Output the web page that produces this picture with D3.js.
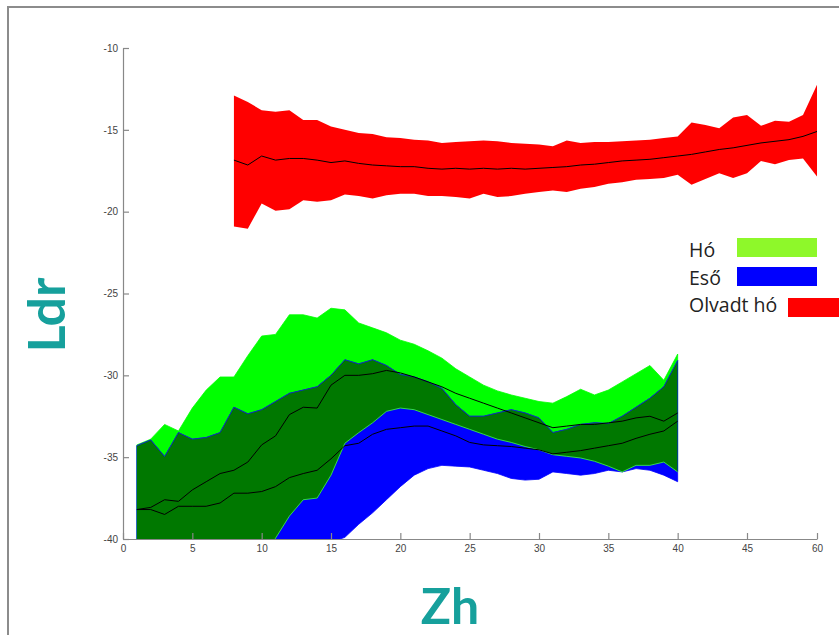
<!DOCTYPE html>
<html>
<head>
<meta charset="utf-8">
<script src="https://cdn.jsdelivr.net/npm/d3@7"></script>
<style>
  html, body { margin: 0; padding: 0; background: #fff; overflow: hidden; }
  svg { display: block; }
</style>
</head>
<body>
<svg id="chart" width="839" height="635"></svg>
<script>
// Zh bins shared by the snow (Hó) and rain (Eső) bands
const zhBins = [1,2,3,4,5,6,7,8,9,10,11,12,13,14,15,16,17,18,19,20,
                21,22,23,24,25,26,27,28,29,30,31,32,33,34,35,36,37,38,39,40];

// Hó: upper edge, mean, lower edge of Ldr
const snowHi = [-34.25,-33.9,-33.0,-33.4,-32.0,-30.9,-30.1,-30.1,-28.8,-27.6,
                -27.5,-26.3,-26.3,-26.5,-25.9,-26.0,-26.8,-27.1,-27.4,-27.85,
                -28.1,-28.5,-28.95,-29.6,-30.1,-30.6,-30.95,-31.2,-31.4,-31.6,
                -31.7,-31.3,-30.85,-31.2,-30.9,-30.4,-29.9,-29.4,-30.3,-28.7];
const snowMean = [-38.2,-38.07,-37.6,-37.7,-37.0,-36.5,-36.0,-35.8,-35.3,-34.25,
                  -33.7,-32.4,-31.95,-32.0,-30.6,-30.0,-30.0,-29.9,-29.7,-29.85,
                  -30.1,-30.4,-30.7,-31.1,-31.4,-31.7,-32.0,-32.3,-32.6,-32.9,
                  -33.2,-33.1,-33.0,-33.0,-32.9,-32.8,-32.6,-32.5,-32.8,-32.3];
const snowLo = [-42.2,-42.3,-42.2,-42.0,-42.0,-42.1,-41.9,-41.6,-41.8,-41.4,
                -39.95,-38.6,-37.6,-37.5,-36.1,-34.15,-33.5,-32.9,-32.2,-32.0,
                -32.1,-32.4,-32.7,-33.0,-33.3,-33.6,-33.9,-34.1,-34.35,-34.55,
                -34.85,-34.95,-35.05,-35.25,-35.55,-35.9,-35.5,-35.5,-35.3,-35.9];

// Eső: upper edge, mean, lower edge of Ldr
const rainHi = [-34.3,-33.95,-34.96,-33.5,-33.9,-33.8,-33.5,-31.95,-32.35,-32.1,
                -31.6,-31.1,-30.9,-30.7,-30.0,-29.05,-29.3,-29.05,-29.4,-29.95,
                -30.1,-30.4,-30.8,-31.8,-32.5,-32.5,-32.3,-32.1,-32.3,-32.6,
                -33.5,-33.3,-33.0,-32.9,-32.95,-32.5,-31.95,-31.4,-30.7,-29.1];
const rainMean = [-38.2,-38.2,-38.5,-38.0,-38.0,-38.0,-37.8,-37.2,-37.2,-37.1,
                  -36.8,-36.25,-36.0,-35.8,-35.1,-34.3,-34.15,-33.6,-33.3,-33.2,
                  -33.1,-33.1,-33.4,-33.7,-34.1,-34.25,-34.3,-34.35,-34.45,-34.55,
                  -34.8,-34.7,-34.6,-34.45,-34.3,-34.15,-33.85,-33.6,-33.4,-32.8];
const rainLo = [-42.2,-42.5,-42.1,-42.5,-42.1,-42.2,-42.1,-42.4,-42.1,-42.1,
                -42.0,-41.4,-41.1,-40.8,-40.2,-39.9,-39.1,-38.4,-37.6,-36.8,
                -36.1,-35.7,-35.5,-35.55,-35.6,-35.8,-36.0,-36.3,-36.4,-36.35,
                -35.9,-36.0,-36.1,-36.0,-35.8,-35.9,-35.7,-35.8,-36.1,-36.5];

// Olvadt hó (melting snow) band
const meltBins = [8,9,10,11,12,13,14,15,16,17,18,19,20,21,22,23,24,25,26,27,28,29,
                  30,31,32,33,34,35,36,37,38,39,40,41,42,43,44,45,48,51,54,57,60];
const meltHi = [-12.9,-13.3,-13.8,-13.9,-13.8,-14.4,-14.4,-14.8,-15.0,-15.2,-15.25,-15.45,
                -15.5,-15.6,-15.65,-15.8,-15.75,-15.7,-15.65,-15.7,-15.8,-15.85,
                -15.9,-16.0,-15.65,-15.8,-15.75,-15.75,-15.7,-15.65,-15.6,-15.5,
                -15.4,-14.55,-14.7,-14.9,-14.25,-14.1,-14.75,-14.45,-14.5,-14.1,-12.25];
const meltMean = [-16.85,-17.15,-16.6,-16.85,-16.75,-16.75,-16.85,-17.0,-16.9,-17.05,-17.15,-17.2,
                  -17.25,-17.25,-17.35,-17.4,-17.35,-17.4,-17.35,-17.4,-17.35,-17.4,
                  -17.35,-17.3,-17.25,-17.15,-17.1,-17.0,-16.9,-16.85,-16.8,-16.7,
                  -16.6,-16.5,-16.35,-16.2,-16.1,-15.95,-15.8,-15.7,-15.6,-15.4,-15.1];
const meltLo = [-20.9,-21.05,-19.5,-19.95,-19.85,-19.3,-19.4,-19.3,-18.95,-19.05,-19.2,-19.0,
                -18.9,-18.9,-19.05,-19.05,-19.1,-19.2,-18.9,-19.1,-19.05,-18.9,
                -18.8,-18.7,-18.8,-18.6,-18.5,-18.3,-18.2,-18.05,-18.0,-17.95,
                -17.75,-18.35,-18.0,-17.65,-17.95,-17.65,-16.9,-17.1,-16.85,-16.75,-17.85];

// Axis ticks and legend
const xTicks = [0,5,10,15,20,25,30,35,40,45,60];
const yTicks = [-10,-15,-20,-25,-30,-35,-40];
const legendLabels = ["Hó", "Eső", "Olvadt hó"];
const legendColors = ["#8ef82a", "#0000ff", "#ff0000"];

const svg = d3.select("#chart");

// outer frame
svg.append("rect")
  .attr("x", 8).attr("y", 7).attr("width", 900).attr("height", 700)
  .attr("fill", "none").attr("stroke", "#8c8c8c").attr("stroke-width", 2);

const plot = { left: 123, right: 817, top: 48, bottom: 539 };

const x = d3.scaleLinear().domain([0, 45, 60]).range([plot.left, 747, plot.right]);
const y = d3.scaleLinear().domain([-40, -10]).range([plot.bottom, plot.top]);

const defs = svg.append("defs");
defs.append("clipPath").attr("id", "plotClip")
  .append("rect")
  .attr("x", plot.left).attr("y", plot.top)
  .attr("width", plot.right - plot.left).attr("height", plot.bottom - plot.top);

const rows = (xs, hi, mid, lo) => xs.map((v, i) => ({ x: v, hi: hi[i], mid: mid[i], lo: lo[i] }));
const snow = rows(zhBins, snowHi, snowMean, snowLo);
const rain = rows(zhBins, rainHi, rainMean, rainLo);
const melt = rows(meltBins, meltHi, meltMean, meltLo);

const band = d3.area().x(d => x(d.x)).y0(d => y(d.lo)).y1(d => y(d.hi));
const midLine = d3.line().x(d => x(d.x)).y(d => y(d.mid));
const hiLine = d3.line().x(d => x(d.x)).y(d => y(d.hi));
const loLine = d3.line().x(d => x(d.x)).y(d => y(d.lo));

defs.append("clipPath").attr("id", "snowClip")
  .append("path").attr("d", band(snow));

const g = svg.append("g").attr("clip-path", "url(#plotClip)");

// melting snow band
g.append("path").attr("d", band(melt)).attr("fill", "#ff0000");

// snow band, rain band, and their overlap
g.append("path").attr("d", band(snow)).attr("fill", "#00ff00")
  .attr("stroke", "#00ff00").attr("stroke-width", 0.8);
g.append("path").attr("d", band(rain)).attr("fill", "#0000ff")
  .attr("stroke", "#0000ff").attr("stroke-width", 0.8);
g.append("path").attr("d", band(rain)).attr("fill", "#007800")
  .attr("clip-path", "url(#snowClip)");

// patch edges bordering the overlap
g.append("path").attr("d", hiLine(rain)).attr("fill", "none")
  .attr("stroke", "#1030c0").attr("stroke-width", 0.8);
g.append("path").attr("d", loLine(snow)).attr("fill", "none")
  .attr("stroke", "#40ff40").attr("stroke-width", 0.8);

// mean lines
[melt, snow, rain].forEach(s => {
  g.append("path").attr("d", midLine(s)).attr("fill", "none")
    .attr("stroke", "#000").attr("stroke-width", 1);
});

// axes
const axisFont = "'Liberation Sans', Arial, sans-serif";
const xAxis = d3.axisBottom(x).tickValues(xTicks).tickFormat(d => String(d))
  .tickSizeInner(-6).tickSizeOuter(0).tickPadding(4);
const yAxis = d3.axisLeft(y).tickValues(yTicks).tickFormat(d => String(d))
  .tickSizeInner(-6).tickSizeOuter(0).tickPadding(5);

const gx = svg.append("g").attr("transform", `translate(0,${plot.bottom})`).call(xAxis);
const gy = svg.append("g").attr("transform", `translate(${plot.left},0)`).call(yAxis);
[gx, gy].forEach(a => {
  a.select(".domain").attr("stroke", "#888").attr("stroke-width", 1.2);
  a.selectAll(".tick line").attr("stroke", "#888").attr("stroke-width", 1.2);
  a.selectAll(".tick text").attr("font-family", axisFont).attr("font-size", 10)
    .attr("fill", "#444");
});
gx.selectAll(".tick text").attr("dy", "0.85em");

// axis titles
const titleFont = "Lato, 'Open Sans', sans-serif";
svg.append("text")
  .attr("transform", "translate(65,315) rotate(-90)")
  .attr("text-anchor", "middle")
  .attr("font-family", titleFont).attr("font-weight", "bold").attr("font-size", 52)
  .attr("fill", "#16a09c").text("Ldr");
svg.append("text")
  .attr("x", 450).attr("y", 624)
  .attr("text-anchor", "middle")
  .attr("font-family", titleFont).attr("font-weight", "bold").attr("font-size", 50)
  .attr("fill", "#16a09c").text("Zh");

// legend
const legendFont = "'Open Sans', 'Noto Sans', sans-serif";
const legendRows = [
  { label: legendLabels[0], color: legendColors[0], ty: 257, sx: 737, sy: 238 },
  { label: legendLabels[1], color: legendColors[1], ty: 285, sx: 737, sy: 267 },
  { label: legendLabels[2], color: legendColors[2], ty: 311.5, sx: 788, sy: 298 }
];
const lg = svg.append("g");
legendRows.forEach(r => {
  lg.append("text").attr("x", 689).attr("y", r.ty)
    .attr("font-family", legendFont).attr("font-size", 19.5)
    .attr("fill", "#222").text(r.label);
  lg.append("rect").attr("x", r.sx).attr("y", r.sy)
    .attr("width", 80).attr("height", 19).attr("fill", r.color);
});
</script>
</body>
</html>
